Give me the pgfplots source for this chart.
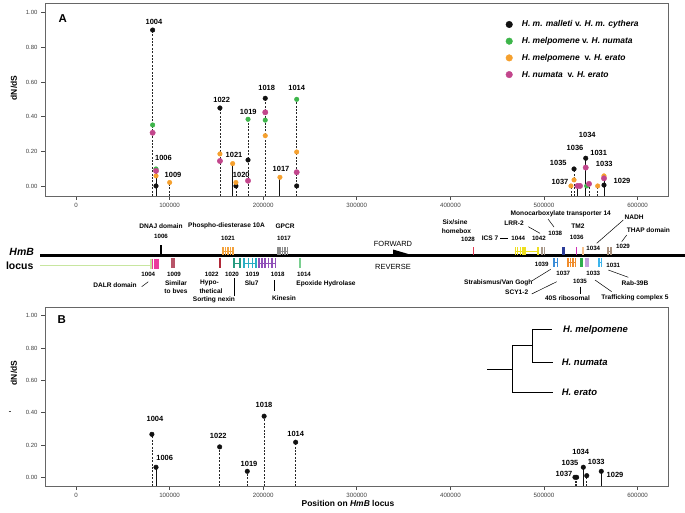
\documentclass[border=0pt]{standalone}
\usepackage{fontspec}
\setmainfont{Liberation Sans}
\usepackage{pgfplots}
\pgfplotsset{compat=1.18}

\definecolor{cblk}{HTML}{111111}
\definecolor{cgrn}{HTML}{3DB54A}
\definecolor{corg}{HTML}{F5A02E}
\definecolor{cmag}{HTML}{C2468C}
\definecolor{lgrn}{HTML}{C8E6A0}
\definecolor{g1004}{HTML}{EA3C9C}
\definecolor{g1009}{HTML}{B85468}
\definecolor{g1022}{HTML}{B02838}
\definecolor{g1021}{HTML}{F4A23C}
\definecolor{g1017}{HTML}{8C8C8C}
\definecolor{g1020}{HTML}{269B80}
\definecolor{g1019}{HTML}{2AAEC4}
\definecolor{g1018}{HTML}{9050B8}
\definecolor{g1014}{HTML}{7ACF90}
\definecolor{g1028}{HTML}{E23A52}
\definecolor{g1044}{HTML}{EEDF20}
\definecolor{g1042}{HTML}{A8988A}
\definecolor{g1038}{HTML}{2C3C98}
\definecolor{g1036}{HTML}{CC2FB4}
\definecolor{g1034}{HTML}{F7C28E}
\definecolor{g1029}{HTML}{A88F7C}
\definecolor{g1039}{HTML}{3A8CD8}
\definecolor{g1037}{HTML}{F08C2C}
\definecolor{g1035}{HTML}{2FAE4E}
\definecolor{g1033}{HTML}{C4A0DC}
\definecolor{g1031}{HTML}{3CB4EC}

\newcommand{\fs}[1]{\fontsize{#1}{#1}\selectfont}

\pgfplotsset{
  panel/.style={
    scale only axis, width=623bp,
    xmin=-33100, xmax=632500,
    axis line style={draw=black!60, line width=0.7bp},
    tick align=outside, major tick length=4bp,
    xtick={0,100000,200000,300000,400000,500000,600000},
    ytick={0,0.2,0.4,0.6,0.8,1},
    xtick pos=bottom, ytick pos=left,
    tick style={black!70, line width=0.6bp},
    scaled x ticks=false, scaled y ticks=false,
    xticklabel style={/pgf/number format/fixed, /pgf/number format/precision=0,
      /pgf/number format/1000 sep={}, font=\fs{6.2}, text=black!75},
    yticklabel style={/pgf/number format/fixed, /pgf/number format/fixed zerofill,
      /pgf/number format/precision=2, font=\fs{6}, text=black!75},
    /pgf/number format/assume math mode=true,
    clip=false,
  },
  stemd/.style={black!85, dash pattern=on 2bp off 1.4bp, line width=0.6bp, forget plot},
  stems/.style={cblk, line width=0.9bp, forget plot},
  dot/.style={only marks, mark=*, mark size=2.3bp},
  exon/.style={only marks, mark=|, mark size=#1, mark options={line width=1.5bp, solid}},
  intr/.style={line width=0.7bp},
}

\begin{document}
\begin{tikzpicture}
\path[use as bounding box] (0,0) rectangle (685bp,513bp);

% ---------------- panel A ----------------
\begin{axis}[panel, at={(45bp,317bp)}, anchor=south west, height=193bp,
  ymin=-0.058, ymax=1.056,
  legend style={at={(0.7395,0.9104)}, anchor=north west, draw=none, fill=none,
    inner sep=0pt, row sep=8.7bp, column sep=9.4bp,
    nodes={inner sep=0pt, text height=6.5bp, text depth=1.5bp, font=\fs{8.5}\bfseries}},
  legend cell align=left,
  legend image code/.code={\draw[#1, mark size=3.3bp] plot coordinates {(0bp,0bp)};},
]
% stems: dashed = reverse strand, solid = forward strand
\addplot[stemd] coordinates {(81900,-0.058) (81900,0.90)};
\addplot[stemd] coordinates {(100100,-0.058) (100100,0.02)};
\addplot[stemd] coordinates {(153800,-0.058) (153800,0.45)};
\addplot[stemd] coordinates {(170900,-0.058) (170900,0.02)};
\addplot[stemd] coordinates {(183800,-0.058) (183800,0.385)};
\addplot[stemd] coordinates {(202200,-0.058) (202200,0.506)};
\addplot[stemd] coordinates {(235800,-0.058) (235800,0.50)};
\addplot[stemd] coordinates {(528800,-0.058) (528800,0.0)};
\addplot[stemd] coordinates {(532100,-0.058) (532100,0.098)};
\addplot[stemd] coordinates {(548100,-0.058) (548100,0.012)};
\addplot[stemd] coordinates {(557400,-0.058) (557400,0.0)};
\addplot[stems] coordinates {(85500,-0.058) (85500,0.098)};
\addplot[stems] coordinates {(167400,-0.058) (167400,0.129)};
\addplot[stems] coordinates {(217900,-0.058) (217900,0.05)};
\addplot[stems] coordinates {(535800,-0.058) (535800,0.0)};
\addplot[stems] coordinates {(544600,-0.058) (544600,0.16)};
\addplot[stems] coordinates {(564100,-0.058) (564100,0.058)};

\addplot[dot, cblk] coordinates {(81900,0.90) (85500,0.00) (153800,0.45) (170900,0.00)
  (183800,0.15) (202200,0.506) (235800,0.00) (532100,0.098) (544600,0.16) (564100,0.005)};
\addlegendentry{\textit{H. m. malleti} v. \textit{H. m. cythera}}
\addplot[dot, cgrn] coordinates {(81900,0.352) (85500,0.098) (183800,0.385) (202200,0.38)
  (235800,0.50) (545600,0.0)};
\addlegendentry{\textit{H. melpomene} v. \textit{H. numata}}
\addplot[dot, corg] coordinates {(85500,0.058) (100100,0.02) (153800,0.185) (167400,0.129)
  (170900,0.02) (202200,0.29) (217900,0.05) (235800,0.196) (528800,0.0) (532100,0.035)
  (557400,0.0) (564100,0.058)};
\addlegendentry{\textit{H. melpomene}\ \ v. \textit{H. erato}}
\addplot[dot, cmag, mark size=2.7bp] coordinates {(81900,0.307) (85500,0.087) (153800,0.144)
  (183800,0.03) (202200,0.425) (235800,0.079) (535800,0.0) (538500,0.0) (544600,0.106)
  (548100,0.012) (564100,0.044)};
\addlegendentry{\textit{H. numata}\ \ v. \textit{H. erato}}
\end{axis}

% ---------------- panel B ----------------
\begin{axis}[panel, at={(45bp,27bp)}, anchor=south west, height=179bp,
  ymin=-0.054, ymax=1.054]
\addplot[stemd] coordinates {(81100,-0.054) (81100,0.266)};
\addplot[stemd] coordinates {(153500,-0.054) (153500,0.188)};
\addplot[stemd] coordinates {(183000,-0.054) (183000,0.037)};
\addplot[stemd] coordinates {(201000,-0.054) (201000,0.378)};
\addplot[stemd] coordinates {(234700,-0.054) (234700,0.217)};
\addplot[stemd] coordinates {(533100,-0.054) (533100,0.0)};
\addplot[stemd] coordinates {(534900,-0.054) (534900,0.0)};
\addplot[stemd] coordinates {(545700,-0.054) (545700,0.01)};
\addplot[stems] coordinates {(85500,-0.054) (85500,0.062)};
\addplot[stems] coordinates {(542000,-0.054) (542000,0.062)};
\addplot[stems] coordinates {(561200,-0.054) (561200,0.037)};
\addplot[dot, cblk] coordinates {(81100,0.266) (85500,0.062) (153500,0.188) (183000,0.037)
  (201000,0.378) (234700,0.217) (533100,0.0) (534900,0.0) (542000,0.062) (545700,0.01)
  (561200,0.037)};
\end{axis}

% ---------------- gene map, labels, tree (pixel frame) ----------------
\begin{axis}[at={(0,0)}, anchor=south west, scale only axis, width=685bp, height=513bp,
  xmin=0, xmax=685, ymin=0, ymax=513, y dir=reverse, hide axis, clip=false]
% locus line and reverse-strand line
\addplot[lgrn, line width=1.3bp] coordinates {(40,265.7) (152,265.7)};
\addplot[black, line width=2.6bp] coordinates {(40,255.7) (685,255.7)};
% forward genes
\addplot[black, exon=5bp] coordinates {(160.6,250) (161.4,250)};
\addplot[g1021, intr] coordinates {(222.7,251) (233.3,251)};
\addplot[g1021, exon=4bp] coordinates {(223.2,251) (225.5,251) (228,251) (230.5,251) (232.8,251)};
\addplot[g1017, intr] coordinates {(277.3,251) (288.3,251)};
\addplot[g1017, exon=4bp] coordinates {(278,251) (280.2,251) (282.5,251) (285,251) (287.5,251)};
\addplot[g1028, exon=4bp] coordinates {(473.3,251)};
\addplot[g1044, intr] coordinates {(515,251) (538.3,251)};
\addplot[g1044, exon=4bp] coordinates {(515.5,251) (517.7,251) (520.5,251) (523,251) (525,251) (537.8,251)};
\addplot[g1042, exon=4bp] coordinates {(542,251) (544.3,251)};
\addplot[g1038, intr] coordinates {(562.5,251) (565,251)};
\addplot[g1038, exon=4bp] coordinates {(563.2,251) (564.4,251)};
\addplot[g1036, exon=4bp] coordinates {(576.7,251)};
\addplot[g1034, exon=4bp] coordinates {(582.3,251) (583.5,251)};
\addplot[g1029, intr] coordinates {(607.3,251) (611.7,251)};
\addplot[g1029, exon=4bp] coordinates {(607.8,251) (611,251)};
% reverse genes
\addplot[lgrn, exon=5bp] coordinates {(151,263.5)};
\addplot[g1004, exon=5bp] coordinates {(152.5,263.5) (154.3,263.5) (156,263.5) (157.8,263.5)};
\addplot[g1009, intr] coordinates {(171.7,263) (174.3,263)};
\addplot[g1009, exon=5bp] coordinates {(172,263) (174,263)};
\addplot[g1022, exon=5bp] coordinates {(220,263)};
\addplot[g1020, intr] coordinates {(233.5,263) (240.5,263)};
\addplot[g1020, exon=5bp] coordinates {(234,263) (240,263)};
\addplot[g1019, intr] coordinates {(243.3,263) (256.7,263)};
\addplot[g1019, exon=5bp] coordinates {(244,263) (248.5,263) (252.5,263) (256,263)};
\addplot[g1018, intr] coordinates {(258.3,263) (276,263)};
\addplot[g1018, exon=5bp] coordinates {(259,263) (262,263) (265,263) (268.5,263) (272,263) (275.5,263)};
\addplot[g1014, exon=5bp] coordinates {(299.5,263) (300.5,263)};
\addplot[g1039, intr] coordinates {(553.5,262.5) (558,262.5)};
\addplot[g1039, exon=4.5bp] coordinates {(554,262.5) (557.5,262.5)};
\addplot[g1037, intr] coordinates {(567.7,262.5) (576.3,262.5)};
\addplot[g1037, exon=4.5bp] coordinates {(568,262.5) (570.5,262.5) (573,262.5) (575.5,262.5)};
\addplot[g1035, exon=4.5bp] coordinates {(581.2,262.5) (582.2,262.5)};
\addplot[g1033, exon=4.5bp] coordinates {(586,262.5) (588,262.5)};
\addplot[g1031, intr] coordinates {(598.5,262.5) (602,262.5)};
\addplot[g1031, exon=4.5bp] coordinates {(598.8,262.5) (601.5,262.5)};

% direction arrow
\fill[black] (393,249.5) -- (414,255.7) -- (393,255.7) -- cycle;
\node[font=\fs{7.5}, inner sep=0pt] at (393,244) {FORWARD};
\node[font=\fs{7.5}, inner sep=0pt] at (393,266.7) {REVERSE};

% locus name
\node[font=\fs{10.5}\bfseries\itshape, inner sep=0pt] at (21.7,252.3) {HmB};
\node[font=\fs{10.5}\bfseries, inner sep=0pt] at (19.7,265.7) {locus};

% gene map labels
\begin{scope}[every node/.style={inner sep=0pt, font=\fs{6.6}\bfseries}]
\node at (161,226) {DNAJ domain};
\node at (226.5,226) {Phospho-diesterase 10A};
\node at (285,226) {GPCR};
\node at (455,221.7) {Six/sine};
\node at (456.5,231) {homebox};
\node at (490,238.3) {ICS 7};
\node at (514,223.3) {LRR-2};
\node at (560.8,213.3) {Monocarboxylate transporter 14};
\node at (578,226.5) {TM2};
\node at (634,217.7) {NADH};
\node at (648.3,230) {THAP domain};
\node at (115,285) {DALR domain};
\node at (176,282.7) {Similar};
\node at (176,290.7) {to bves};
\node[anchor=west] at (200,282.7) {Hypo-};
\node[anchor=west] at (199.3,290.7) {thetical};
\node at (214,300) {Sorting nexin};
\node at (251.7,283.3) {Slu7};
\node at (284,297.7) {Kinesin};
\node at (326,283.3) {Epoxide Hydrolase};
\node at (498.3,283.3) {Strabismus/Van Gogh};
\node at (516.7,292.7) {SCY1-2};
\node at (567.5,298.3) {40S ribosomal};
\node at (635,298.3) {Trafficking complex 5};
\node at (635,282.7) {Rab-39B};
\end{scope}
\begin{scope}[every node/.style={inner sep=0pt, font=\fs{6.2}\bfseries}]
\node at (161,236.7) {1006};
\node at (228,238) {1021};
\node at (284,238.3) {1017};
\node at (468,239) {1028};
\node at (518.3,238.3) {1044};
\node at (538.9,238.3) {1042};
\node at (555.3,233.3) {1038};
\node at (576.7,237.3) {1036};
\node at (593.3,248.3) {1034};
\node at (623,246.7) {1029};
\node at (148.3,274.3) {1004};
\node at (174,274.3) {1009};
\node at (211.7,274.3) {1022};
\node at (232,274.3) {1020};
\node at (252.5,274.3) {1019};
\node at (277.7,274.3) {1018};
\node at (304,274.3) {1014};
\node at (541.7,264.3) {1039};
\node at (563.3,273.3) {1037};
\node at (580,281) {1035};
\node at (593.3,273.3) {1033};
\node at (613.3,265.7) {1031};
\end{scope}
% leader lines
\begin{scope}[line width=0.5bp]
\draw (500,238.3) -- (508.3,238.3);
\draw (528.3,226.7) -- (540,233.3);
\draw (548,219) -- (554,227);
\draw (623.3,220) -- (596.7,243.3);
\draw (626.7,235) -- (621.7,241.7);
\draw (141.7,286.7) -- (148.3,281.7);
\draw (234.3,278) -- (234.3,296);
\draw (274,280) -- (274,290.7);
\draw (580,286.7) -- (580,294);
\draw (531.7,281) -- (550.7,269.3);
\draw (531.7,294) -- (556.7,281.7);
\draw (595,280) -- (611.7,291.7);
\draw (608.3,270) -- (628.3,277.3);
\end{scope}

% panel letters and axis titles
\node[font=\fs{11.5}\bfseries, inner sep=0pt] at (62.7,19) {A};
\node[font=\fs{11.5}\bfseries, inner sep=0pt] at (61.7,320) {B};
\node[font=\fs{8.5}\bfseries, inner sep=0pt, rotate=90] at (14,88) {dN/dS};
\node[font=\fs{8.5}\bfseries, inner sep=0pt, rotate=90] at (14,373) {dN/dS};
\draw[line width=0.5bp, black!70] (8.5,411.7) -- (11,411.7);
\node[font=\fs{8.5}\bfseries, inner sep=0pt] at (348,503) {Position on \textit{HmB} locus};

% stem labels
\begin{scope}[every node/.style={inner sep=0pt, font=\fs{7.5}\bfseries}]
\node at (154,21.7) {1004};
\node at (163.5,157.7) {1006};
\node at (173,174.7) {1009};
\node at (221.7,100) {1022};
\node at (234,154.7) {1021};
\node at (241.3,175) {1020};
\node at (248.3,111.7) {1019};
\node at (266.7,88.3) {1018};
\node at (281,169.3) {1017};
\node at (296.7,88.3) {1014};
\node at (587.3,135) {1034};
\node at (575,148) {1036};
\node at (598.7,152.7) {1031};
\node at (558.3,163.3) {1035};
\node at (604.3,164) {1033};
\node at (560,181.7) {1037};
\node at (622,181.3) {1029};
\node at (155,419) {1004};
\node at (164.7,457.7) {1006};
\node at (218.3,436.3) {1022};
\node at (249,463.7) {1019};
\node at (264,405) {1018};
\node at (295.7,433.7) {1014};
\node at (564,474) {1037};
\node at (570,463) {1035};
\node at (580.7,452) {1034};
\node at (596.3,462.3) {1033};
\node at (615,475.3) {1029};
\end{scope}

% species tree
\begin{scope}[line width=1.1bp]
\draw (487.3,369.3) -- (512.3,369.3);
\draw (512.3,345.9) -- (512.3,392.7);
\draw (512.3,345.9) -- (532.3,345.9);
\draw (532.3,329.5) -- (532.3,362.3);
\draw (532.3,329.5) -- (551.7,329.5);
\draw (532.3,362.3) -- (552.7,362.3);
\draw (512.3,392.7) -- (553.3,392.7);
\end{scope}
\begin{scope}[every node/.style={inner sep=0pt, anchor=west, font=\fs{9.5}\bfseries\itshape}]
\node at (563,330.5) {H. melpomene};
\node at (561.7,362.3) {H. numata};
\node at (561.7,392.7) {H. erato};
\end{scope}
\end{axis}
\end{tikzpicture}
\end{document}
